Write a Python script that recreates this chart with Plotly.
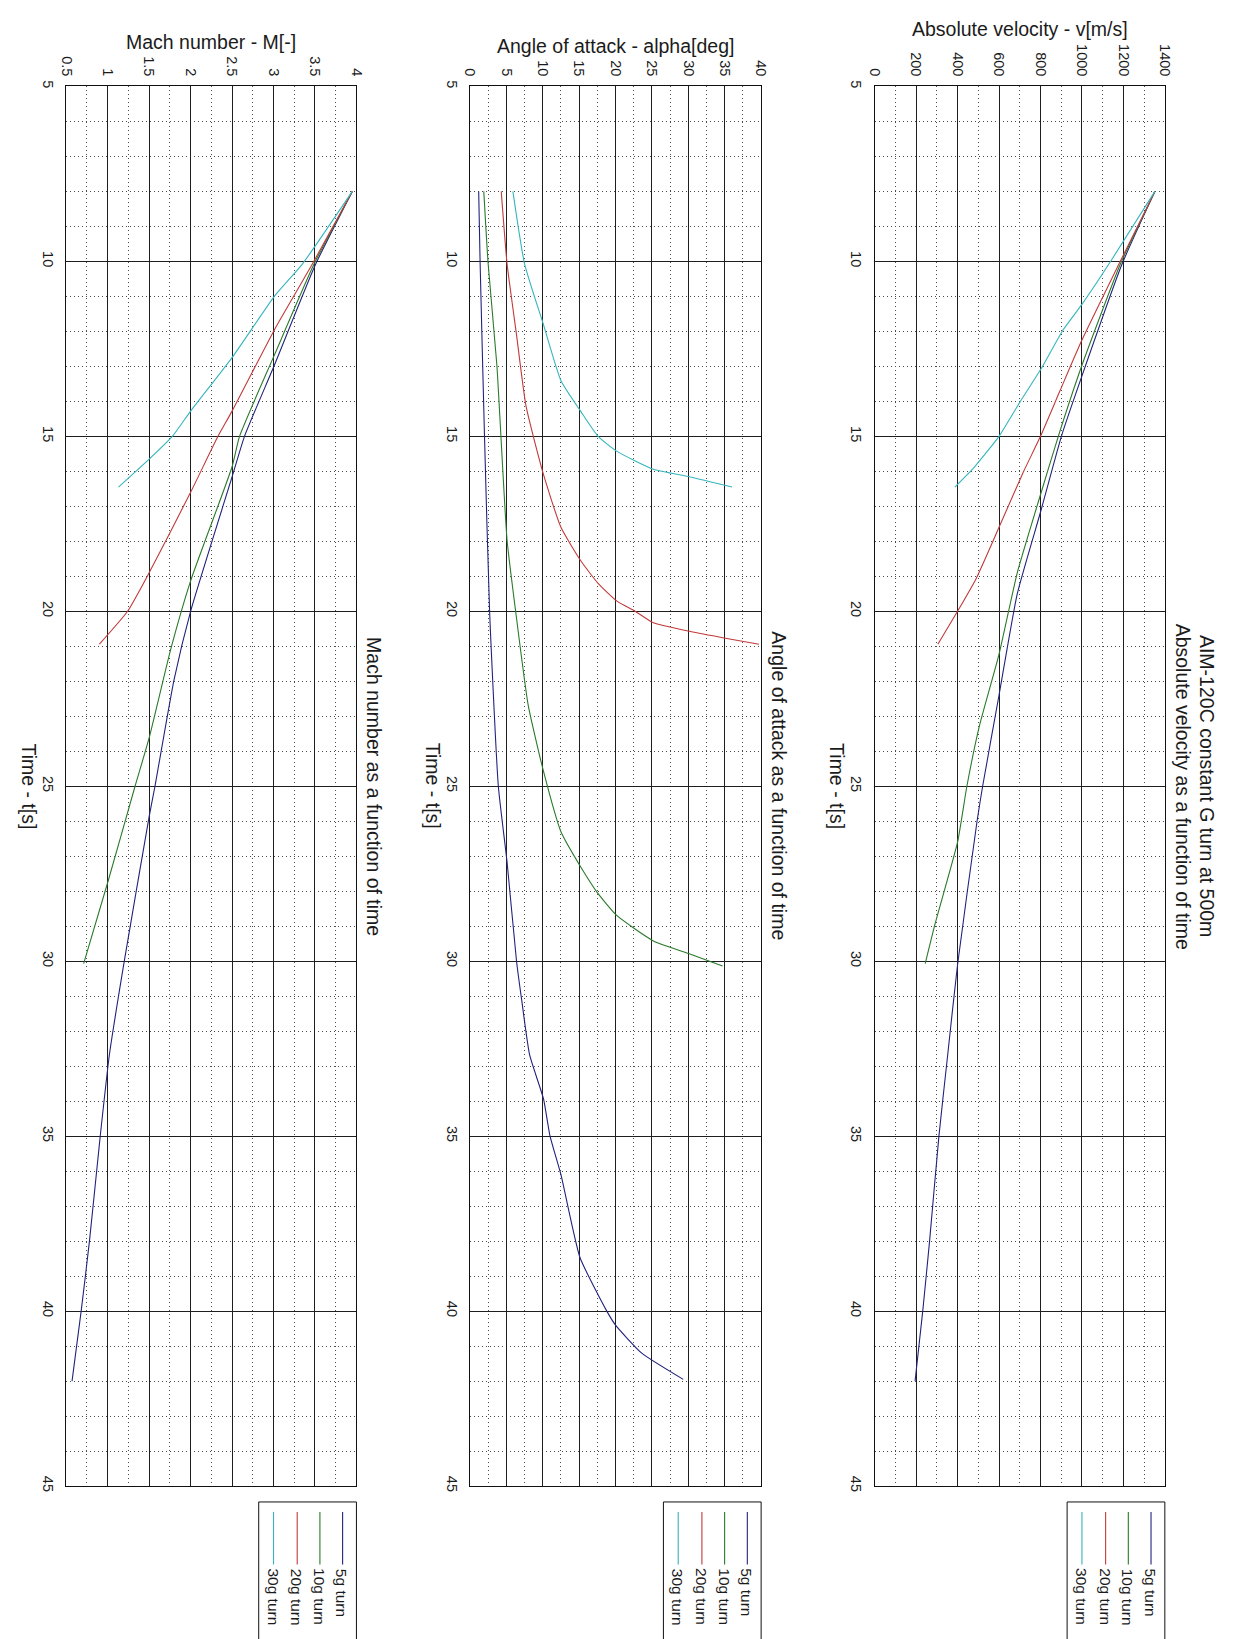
import plotly.graph_objects as go

# ---------------- data ----------------
series_names = ["5g turn", "10g turn", "20g turn", "30g turn"]
series_colors = ["#22227e", "#2a7a2a", "#c23a3a", "#35b5bd"]

# Absolute velocity v [m/s] vs time t [s]
vel_t_5g = [8, 10.07, 13.26, 15, 17.17, 19.5, 22.4, 25, 26, 30.1, 32.7, 35, 38, 40, 42]
vel_v_5g = [1352, 1194, 1001, 901, 800, 688, 600, 521, 494, 400, 352, 310, 265, 232, 195]
vel_t_10g = [8, 10.07, 12.97, 15, 16.67, 18.9, 21.23, 23.26, 25, 26.6, 28.9, 30.07]
vel_v_10g = [1352, 1186, 1000, 886, 800, 688, 600, 506, 445, 400, 293, 244]
vel_t_20g = [8, 10.07, 12.25, 13.7, 15, 16.0, 17.6, 19.06, 20, 20.94]
vel_v_20g = [1352, 1179, 1000, 894, 800, 719, 600, 490, 400, 305]
vel_t_30g = [8, 10.07, 11.23, 11.96, 13.1, 14.0, 15, 15.87, 16.45]
vel_v_30g = [1352, 1131, 1000, 909, 800, 703, 600, 482, 387]

# Angle of attack alpha [deg] vs time t [s]
aoa_t_5g = [8, 10.07, 15, 20, 25, 27.17, 30, 31.1, 32.68, 33.93, 35, 36.1, 38.46, 40, 40.4, 41.2, 41.95]
aoa_a_5g = [1.2, 1.4, 2.0, 2.7, 3.9, 5.1, 6.4, 7.1, 8.2, 10.1, 11.0, 12.5, 15.1, 18.8, 20.0, 23.6, 29.3]
aoa_t_10g = [8, 10.07, 12.97, 17.97, 20.2, 22.68, 24.57, 26.3, 27.3, 28.04, 28.7, 29.42, 29.8, 30.14]
aoa_a_10g = [1.9, 2.5, 3.7, 5.1, 6.4, 8.0, 10.1, 12.5, 15.2, 17.5, 20.2, 25.2, 30.3, 34.7]
aoa_t_20g = [8, 10.07, 12.1, 14.13, 16.09, 17.6, 18.55, 19.2, 19.71, 20.0, 20.33, 20.58, 20.77, 20.94]
aoa_a_20g = [4.3, 5.1, 6.4, 7.7, 10.1, 12.5, 15.2, 17.6, 20.2, 22.7, 25.2, 30.3, 35.1, 39.7]
aoa_t_30g = [8, 10.07, 11.81, 13.41, 14.28, 15, 15.43, 15.94, 16.16, 16.45]
aoa_a_30g = [5.9, 7.5, 10.1, 12.5, 15.2, 17.6, 20.2, 25.2, 30.3, 36.0]

# Mach number M [-] vs time t [s]
mach_t_5g = [8, 10.07, 12.97, 15, 16.16, 20, 21.96, 25, 25.87, 30, 32.68, 35, 38, 40, 42]
mach_m_5g = [3.95, 3.51, 3.01, 2.65, 2.5, 2.0, 1.80, 1.57, 1.5, 1.2, 1.02, 0.91, 0.78, 0.68, 0.57]
mach_t_10g = [8, 10.07, 12.68, 15, 15.87, 19.13, 21.09, 23.62, 25, 27.75, 30.07]
mach_m_10g = [3.95, 3.49, 3.01, 2.59, 2.5, 2.0, 1.76, 1.5, 1.33, 1.0, 0.71]
mach_t_20g = [8, 10.07, 11.96, 14.28, 15, 16.6, 18.9, 20, 20.94]
mach_m_20g = [3.95, 3.47, 3.01, 2.5, 2.33, 2.0, 1.5, 1.24, 0.9]
mach_t_30g = [8, 10.07, 11.0, 12.75, 14.28, 15, 15.65, 16.45]
mach_m_30g = [3.95, 3.35, 3.01, 2.5, 2.0, 1.78, 1.5, 1.13]

fig_title = "AIM-120C constant G turn at 500m"
time_label = "Time - t[s]"
time_range = [45, 5]

# ---------------- layout helpers ----------------
W, H = 1237, 1639
FONT = "Liberation Sans, Arial, Helvetica, sans-serif"
TXT = "#1b1b1b"
top_px, bot_px = 81, 1491

def px(x):
    return x / W

def py(y):
    return 1 - y / H

panels = [
    dict(ax="", x0=59, x1=353, rng=[0.5, 4], dt=0.5, t0=0.5, mdt=0.25,
         vtitle="Mach number - M[-]", vty=36, stitle=["Mach number as a function of time"],
         data=[(mach_t_5g, mach_m_5g), (mach_t_10g, mach_m_10g), (mach_t_20g, mach_m_20g), (mach_t_30g, mach_m_30g)]),
    dict(ax="2", x0=468, x1=763, rng=[0, 40], dt=5, t0=0, mdt=2.5,
         vtitle="Angle of attack - alpha[deg]", vty=40, stitle=["Angle of attack as a function of time"],
         data=[(aoa_t_5g, aoa_a_5g), (aoa_t_10g, aoa_a_10g), (aoa_t_20g, aoa_a_20g), (aoa_t_30g, aoa_a_30g)]),
    dict(ax="3", x0=878, x1=1172, rng=[0, 1400], dt=200, t0=0, mdt=100,
         vtitle="Absolute velocity - v[m/s]", vty=23,
         stitle=["Absolute velocity as a function of time", fig_title],
         data=[(vel_t_5g, vel_v_5g), (vel_t_10g, vel_v_10g), (vel_t_20g, vel_v_20g), (vel_t_30g, vel_v_30g)]),
]

fig = go.Figure()
layout = dict(
    width=W, height=H, margin=dict(l=0, r=0, t=0, b=0),
    paper_bgcolor="white", plot_bgcolor="white", showlegend=False,
    font=dict(family=FONT, color=TXT, size=15),
)
annotations = []
shapes = []

minor_dash = "1px,3px"

for p in panels:
    ax = p["ax"]
    xname = "xaxis" + ax
    yname = "yaxis" + ax
    xref = "x" + ax
    yref = "y" + ax
    layout[xname] = dict(
        domain=[px(p["x0"]), px(p["x1"])], range=p["rng"], anchor=yref, side="top",
        tickmode="linear", tick0=p["t0"], dtick=p["dt"], tickangle=90,
        tickfont=dict(size=14.5, family=FONT, color=TXT), ticks="",
        showgrid=True, gridcolor="#1e1e1e", gridwidth=1, zeroline=False,
        showline=True, mirror=True, linecolor="#111111", linewidth=1,
        minor=dict(dtick=p["mdt"], tick0=p["t0"], showgrid=True, gridcolor="#4a4a4a",
                   griddash=minor_dash, gridwidth=1, ticks=""),
        ticklabelstandoff=4,
    )
    layout[yname] = dict(
        domain=[py(bot_px), py(top_px)], range=time_range, anchor=xref, side="left",
        tickmode="linear", tick0=5, dtick=5, tickangle=90,
        tickfont=dict(size=14.5, family=FONT, color=TXT), ticks="",
        showgrid=True, gridcolor="#1e1e1e", gridwidth=1, zeroline=False,
        showline=True, mirror=True, linecolor="#111111", linewidth=1,
        minor=dict(dtick=1, tick0=5, showgrid=True, gridcolor="#4a4a4a",
                   griddash=minor_dash, gridwidth=1, ticks=""),
        ticklabelstandoff=5,
    )
    for (tt, vv), name, col in zip(p["data"], series_names, series_colors):
        fig.add_trace(go.Scatter(x=vv, y=tt, mode="lines", name=name,
                                 line=dict(color=col, width=1.1, shape="spline", smoothing=0.5),
                                 xaxis=xref, yaxis=yref, hoverinfo="skip"))

    cx = (p["x0"] + p["x1"]) / 2
    cy = (top_px + bot_px) / 2
    annotations.append(dict(xref="paper", yref="paper", x=px(cx), y=py(p["vty"]),
                            text=p["vtitle"], showarrow=False, xanchor="center", yanchor="middle",
                            font=dict(size=19.5, family=FONT, color=TXT)))
    annotations.append(dict(xref="paper", yref="paper", x=px(p["x0"] - 38), y=py(cy),
                            text=time_label, showarrow=False, textangle=90,
                            xanchor="center", yanchor="middle",
                            font=dict(size=19.5, family=FONT, color=TXT)))
    for k, s in enumerate(p["stitle"]):
        annotations.append(dict(xref="paper", yref="paper", x=px(p["x1"] + 18 + 24 * k), y=py(cy),
                                text=s, showarrow=False, textangle=90,
                                xanchor="center", yanchor="middle",
                                font=dict(size=19.5, family=FONT, color=TXT)))
    lx1 = p["x1"]
    lx0 = p["x1"] - 99
    shapes.append(dict(type="rect", xref="paper", yref="paper",
                       x0=px(lx0), x1=px(lx1), y0=py(1660), y1=py(1507),
                       line=dict(color="#111111", width=1), fillcolor="white", layer="above"))
    offsets = [14, 37, 60, 84]
    for off, name, col in zip(offsets, series_names, series_colors):
        xl = lx1 - off
        shapes.append(dict(type="line", xref="paper", yref="paper",
                           x0=px(xl), x1=px(xl), y0=py(1517), y1=py(1570),
                           line=dict(color=col, width=1.1), layer="above"))
        annotations.append(dict(xref="paper", yref="paper", x=px(xl - 1), y=py(1572),
                                text=name, showarrow=False, textangle=90,
                                xanchor="center", yanchor="top",
                                font=dict(size=15.5, family=FONT, color=TXT)))

layout["annotations"] = annotations
layout["shapes"] = shapes
fig.update_layout(**layout)
fig.write_html("out.html")
